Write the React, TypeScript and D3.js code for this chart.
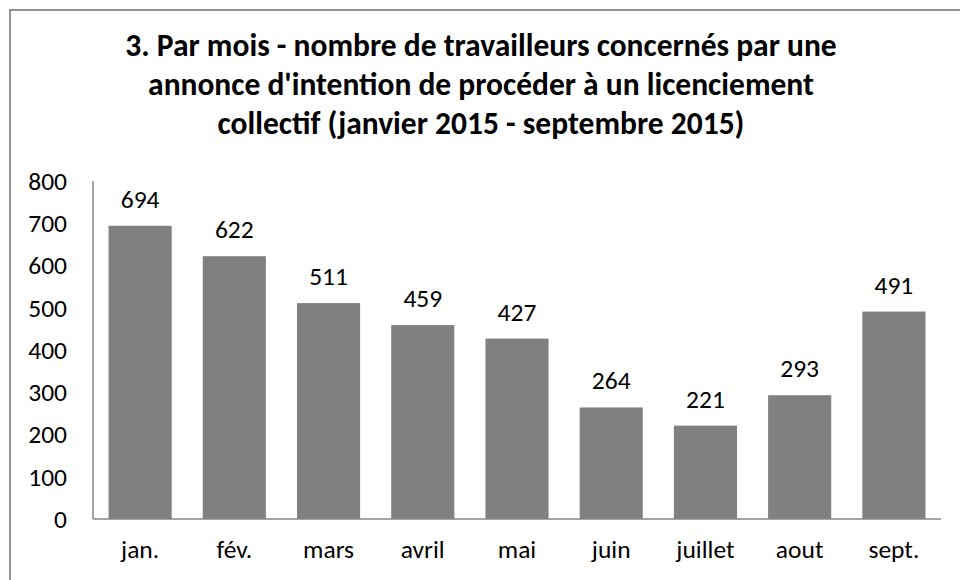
import React from 'react';
import * as d3 from 'd3';

const titleLines = [
  '3. Par mois - nombre de travailleurs concernés par une',
  "annonce d'intention de procéder à un licenciement",
  'collectif (janvier 2015 - septembre 2015)',
];
const months = ['jan.', 'fév.', 'mars', 'avril', 'mai', 'juin', 'juillet', 'aout', 'sept.'];
const workers = [694, 622, 511, 459, 427, 264, 221, 293, 491];
const yTicks = [0, 100, 200, 300, 400, 500, 600, 700, 800];

const W = 960;
const H = 580;
const font = "Calibri, Carlito, 'Open Sans', sans-serif";

export default function App() {
  const x = d3
    .scaleBand<string>()
    .domain(months)
    .range([93, 941])
    .paddingInner(0.33)
    .paddingOuter(0.165);

  const y = d3.scaleLinear().domain([0, 800]).range([519, 181]);

  return (
    <svg
      width={W}
      height={H}
      style={{ position: 'absolute', left: 0, top: 0, background: '#fff' }}
    >
      {/* outer chart frame, runs off the right and bottom edges */}
      <rect x={10} y={10} width={W + 20} height={H + 20} fill="#fff" stroke="#868686" strokeWidth={1.8} />

      {titleLines.map((t, i) => (
        <text
          key={i}
          x={481}
          y={56 + i * 39}
          textAnchor="middle"
          fontFamily={font}
          fontWeight="bold"
          fontSize={31.5}
          fill="#000"
        >
          {t}
        </text>
      ))}

      {/* y tick labels */}
      {yTicks.map((t) => (
        <text
          key={t}
          x={67}
          y={y(t)}
          dy="0.35em"
          textAnchor="end"
          fontFamily={font}
          fontSize={25.5}
          fill="#000"
        >
          {t}
        </text>
      ))}

      {workers.map((v, i) => (
        <g key={months[i]}>
          <rect
            x={x(months[i])}
            y={y(v)}
            width={x.bandwidth()}
            height={y(0) - y(v)}
            fill="#808080"
          />
          <text
            x={(x(months[i]) as number) + x.bandwidth() / 2}
            y={y(v) - 18}
            textAnchor="middle"
            fontFamily={font}
            fontSize={25.5}
            fill="#000"
          >
            {v}
          </text>
          <text
            x={(x(months[i]) as number) + x.bandwidth() / 2}
            y={558}
            textAnchor="middle"
            fontFamily={font}
            fontSize={25.5}
            fill="#000"
          >
            {months[i]}
          </text>
        </g>
      ))}

      {/* axes */}
      <line x1={93} x2={93} y1={y(800)} y2={y(0)} stroke="#868686" strokeWidth={1.5} />
      <line x1={93} x2={941} y1={y(0)} y2={y(0)} stroke="#868686" strokeWidth={1.5} />
    </svg>
  );
}
